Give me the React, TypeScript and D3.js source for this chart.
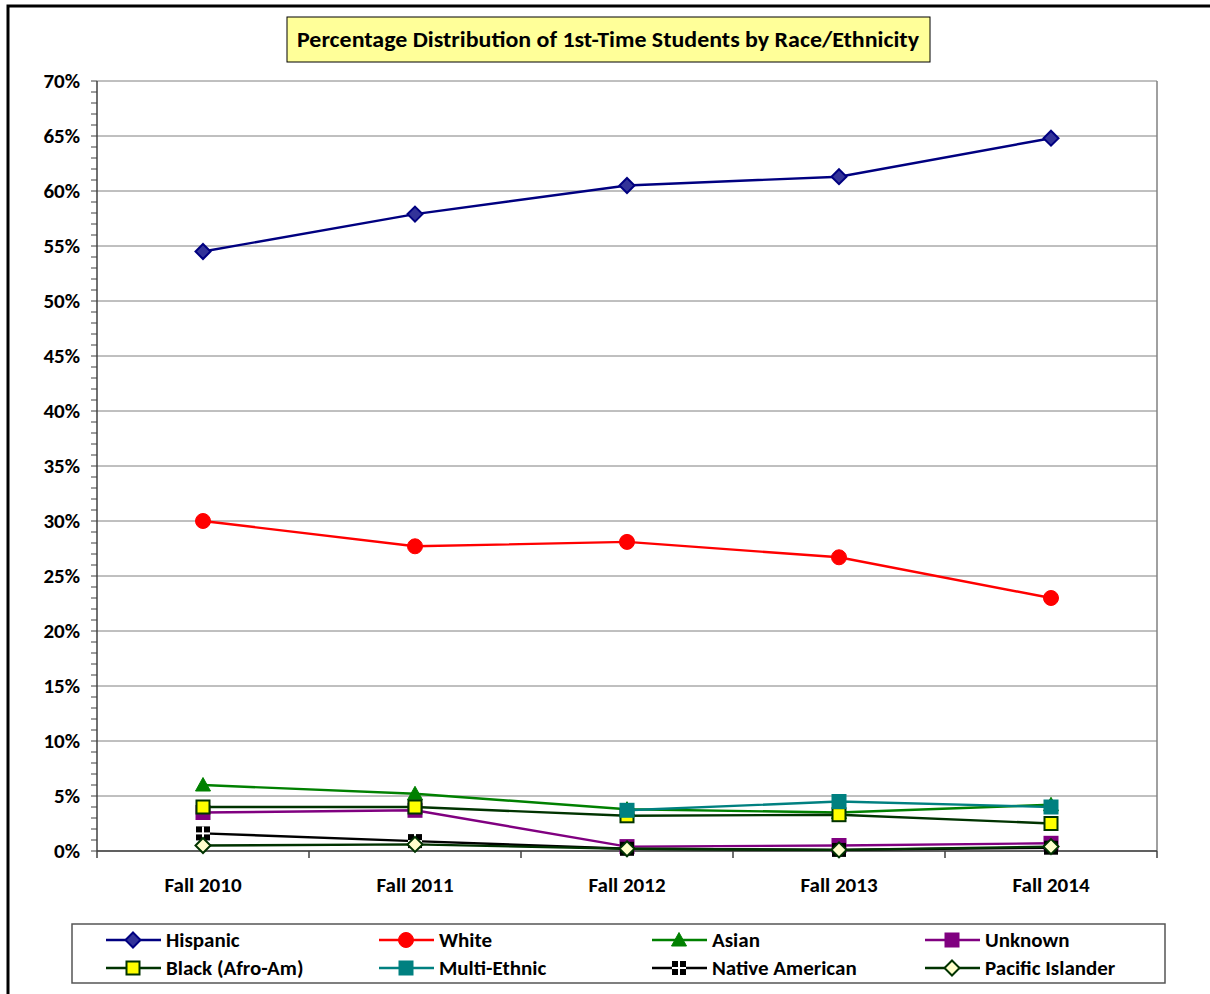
import * as d3 from 'd3'

const years = ['Fall 2010', 'Fall 2011', 'Fall 2012', 'Fall 2013', 'Fall 2014']

const hispanic = [54.5, 57.9, 60.5, 61.3, 64.8]
const white = [30.0, 27.7, 28.1, 26.7, 23.0]
const asian = [6.0, 5.2, 3.8, 3.5, 4.2]
const unknown = [3.5, 3.7, 0.4, 0.5, 0.7]
const black = [4.0, 4.0, 3.2, 3.3, 2.5]
const multiEthnic = [null, null, 3.7, 4.5, 4.0]
const nativeAmerican = [1.6, 0.9, 0.2, 0.1, 0.3]
const pacificIslander = [0.5, 0.6, 0.2, 0.1, 0.4]

const yTicks = [0, 5, 10, 15, 20, 25, 30, 35, 40, 45, 50, 55, 60, 65, 70]

const series = [
  { name: 'Hispanic', values: hispanic, line: '#000080', marker: 'diamond', fill: '#333399', stroke: '#000080' },
  { name: 'White', values: white, line: '#FF0000', marker: 'circle', fill: '#FF0000', stroke: '#FF0000' },
  { name: 'Asian', values: asian, line: '#008000', marker: 'triangle', fill: '#008000', stroke: '#008000' },
  { name: 'Unknown', values: unknown, line: '#800080', marker: 'square', fill: '#800080', stroke: '#800080' },
  { name: 'Black (Afro-Am)', values: black, line: '#003300', marker: 'square', fill: '#FFFF00', stroke: '#003300' },
  { name: 'Multi-Ethnic', values: multiEthnic, line: '#008080', marker: 'square', fill: '#008080', stroke: '#008080' },
  { name: 'Native American', values: nativeAmerican, line: '#000000', marker: 'cross', fill: '#000000', stroke: '#000000' },
  { name: 'Pacific Islander', values: pacificIslander, line: '#003300', marker: 'diamond', fill: '#FFFFCC', stroke: '#003300' },
]

const font = 'Carlito, Calibri, Lato, sans-serif'

const Marker = ({ kind, x, y, fill, stroke }) => {
  if (kind === 'diamond') {
    return <path d={`M${x},${y - 7.5}L${x + 7.5},${y}L${x},${y + 7.5}L${x - 7.5},${y}Z`} fill={fill} stroke={stroke} strokeWidth={2} />
  }
  if (kind === 'circle') {
    return <circle cx={x} cy={y} r={7.5} fill={fill} stroke={stroke} />
  }
  if (kind === 'triangle') {
    return <path d={`M${x},${y - 7.5}L${x + 7.5},${y + 6}L${x - 7.5},${y + 6}Z`} fill={fill} stroke={stroke} />
  }
  if (kind === 'cross') {
    return (
      <g>
        <rect x={x - 7} y={y - 7} width={14} height={14} fill="#000" />
        <line x1={x} x2={x} y1={y - 7} y2={y + 7} stroke="#fff" strokeWidth={2} />
        <line x1={x - 7} x2={x + 7} y1={y} y2={y} stroke="#fff" strokeWidth={2} />
      </g>
    )
  }
  return <rect x={x - 6.5} y={y - 6.5} width={13} height={13} fill={fill} stroke={stroke} strokeWidth={2} />
}

const App = () => {
  const left = 97
  const right = 1157
  const top = 81
  const bottom = 851

  const x = d3.scalePoint().domain(years).range([left, right]).padding(0.5)
  const y = d3.scaleLinear().domain([0, 70]).range([bottom, top])
  const step = x.step()

  const line = d3
    .line()
    .defined(d => d[1] !== null)
    .x(d => x(d[0]))
    .y(d => y(d[1]))

  const minor = d3.range(0, 71, 1)

  return (
    <svg width={1210} height={994} style={{ position: 'absolute', left: 0, top: 0 }} fontFamily={font}>
      <rect x={0} y={0} width={1210} height={994} fill="#fff" />
      <path d="M8,994V6H1210" fill="none" stroke="#000" strokeWidth={3} />

      {/* title */}
      <rect x={287} y={17} width={643} height={45} fill="#FFFF99" stroke="#000" strokeWidth={1} />
      <text x={608} y={47} textAnchor="middle" fontSize={22} fontWeight="bold" textLength={622} lengthAdjust="spacingAndGlyphs">
        Percentage Distribution of 1st-Time Students by Race/Ethnicity
      </text>

      {/* gridlines */}
      {yTicks.map(t => (
        <line key={t} x1={left} x2={right} y1={y(t)} y2={y(t)} stroke="#808080" strokeWidth={1} />
      ))}
      <line x1={right} x2={right} y1={top} y2={bottom} stroke="#808080" strokeWidth={1.5} />

      {/* y axis */}
      <line x1={left} x2={left} y1={top} y2={bottom} stroke="#404040" strokeWidth={1.5} />
      {minor.map(t => (
        <line key={t} x1={left - 6} x2={left} y1={y(t)} y2={y(t)} stroke="#404040" strokeWidth={1} />
      ))}
      {yTicks.map(t => (
        <text key={t} x={80} y={y(t) + 7} textAnchor="end" fontSize={21} fontWeight="bold">{t}%</text>
      ))}

      {/* x axis */}
      <line x1={left} x2={right} y1={bottom} y2={bottom} stroke="#404040" strokeWidth={1.5} />
      {d3.range(0, years.length + 1).map(i => (
        <line key={i} x1={left + i * step} x2={left + i * step} y1={bottom} y2={bottom + 7} stroke="#404040" strokeWidth={1.5} />
      ))}
      {years.map(yr => (
        <text key={yr} x={x(yr)} y={892} textAnchor="middle" fontSize={21} fontWeight="bold">{yr}</text>
      ))}

      {/* series */}
      {series.map(s => {
        const pts = years.map((yr, i) => [yr, s.values[i]])
        return (
          <g key={s.name}>
            <path d={line(pts)} fill="none" stroke={s.line} strokeWidth={2.4} />
            {pts.filter(p => p[1] !== null).map(p => (
              <Marker key={p[0]} kind={s.marker} x={x(p[0])} y={y(p[1])} fill={s.fill} stroke={s.stroke} />
            ))}
          </g>
        )
      })}

      {/* legend */}
      <rect x={72} y={924} width={1093} height={59} fill="#fff" stroke="#555" strokeWidth={1.5} />
      {series.map((s, i) => {
        const col = i % 4
        const row = Math.floor(i / 4)
        const lx = [106, 379, 652, 925][col]
        const ly = 940 + row * 28
        return (
          <g key={s.name}>
            <line x1={lx} x2={lx + 55} y1={ly} y2={ly} stroke={s.line} strokeWidth={2.4} />
            <Marker kind={s.marker} x={lx + 27} y={ly} fill={s.fill} stroke={s.stroke} />
            <text x={lx + 60} y={ly + 7} fontSize={21} fontWeight="bold">{s.name}</text>
          </g>
        )
      })}
    </svg>
  )
}

export default App
